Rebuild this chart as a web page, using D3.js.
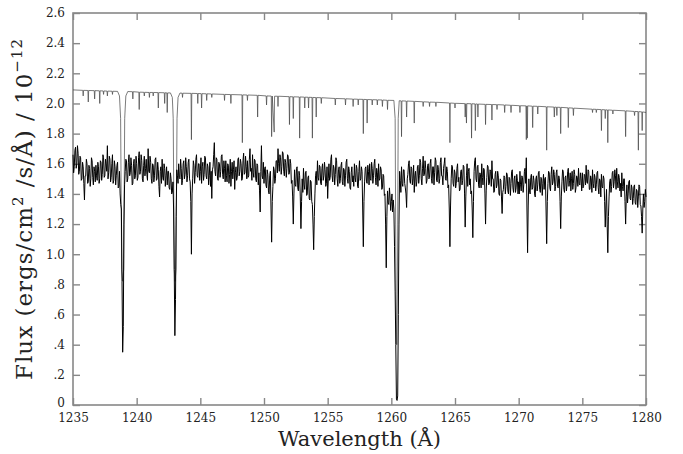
<!DOCTYPE html>
<html lang="en">
<head>
  <meta charset="UTF-8" />
  <title>Flux vs Wavelength</title>
  <style>
    body {
      margin: 0;
      background-color: #fff;
    }

    svg {
      display: block;
      background-color: #fff;
    }

    .frame {
      fill: none;
      stroke: #888;
      stroke-width: 1.6;
    }

    .axis path {
      display: none;
    }

    .axis line {
      stroke: #888;
      stroke-width: 1.4;
    }

    .axis text {
      font-family: "DejaVu Serif", serif;
      font-size: 12px;
      fill: #222;
    }

    .title {
      font-family: "DejaVu Serif", serif;
      fill: #222;
    }

    .model {
      fill: none;
      stroke: #444;
      stroke-width: 0.7;
    }

    .observed {
      fill: none;
      stroke: #000;
      stroke-width: 1;
    }
  </style>
</head>

<body>

  <svg width="683" height="454"></svg>

  <script src="https://d3js.org/d3.v7.min.js"></script>
  <script>
    // axis settings
    const xDomain = [1235, 1280];
    const yDomain = [0, 2.6];
    const xTicks = [1235, 1240, 1245, 1250, 1255, 1260, 1265, 1270, 1275, 1280];
    const yTicks = [0, 0.2, 0.4, 0.6, 0.8, 1.0, 1.2, 1.4, 1.6, 1.8, 2.0, 2.2, 2.4, 2.6];

    // observed spectrum, one flux value every 0.05 A starting at 1235.0 (one row per A)
    const obsStart = 1235.0;
    const obsStep = 0.05;
    const obsFlux = [
      1.66,1.54,1.58,1.69,1.71,1.57,1.60,1.72,1.67,1.53,1.55,1.65,1.64,1.49,1.50,1.61,1.58,1.47,1.36,1.52,
      1.52,1.63,1.60,1.47,1.48,1.59,1.57,1.45,1.50,1.64,1.62,1.51,1.46,1.58,1.55,1.48,1.59,1.52,1.49,1.61,
      1.58,1.47,1.50,1.62,1.61,1.49,1.53,1.66,1.64,1.51,1.52,1.63,1.60,1.55,1.72,1.50,1.54,1.65,1.63,1.48,
      1.51,1.60,1.66,1.47,1.49,1.62,1.58,1.46,1.52,1.59,1.61,1.44,1.45,1.55,1.40,1.33,1.30,0.82,0.35,0.52,
      1.20,1.46,1.55,1.63,1.62,1.48,1.50,1.61,1.66,1.52,1.54,1.64,1.59,1.46,1.47,1.60,1.63,1.50,1.52,1.65,
      1.60,1.49,1.51,1.64,1.68,1.53,1.55,1.66,1.62,1.50,1.48,1.59,1.65,1.52,1.57,1.63,1.53,1.49,1.70,1.55,
      1.54,1.65,1.61,1.50,1.47,1.60,1.59,1.48,1.52,1.63,1.64,1.49,1.50,1.61,1.56,1.45,1.38,1.55,1.58,1.47,
      1.63,1.51,1.49,1.60,1.57,1.45,1.52,1.58,1.46,1.55,1.55,1.44,1.43,1.54,1.50,1.40,1.41,1.48,1.30,0.90,
      0.46,0.70,1.25,1.56,1.52,1.47,1.60,1.51,1.50,1.63,1.57,1.46,1.49,1.60,1.62,1.50,1.53,1.64,1.58,1.48,
      1.52,1.61,1.63,1.50,1.48,1.35,1.00,1.40,1.50,1.62,1.59,1.47,1.54,1.63,1.66,1.52,1.51,1.60,1.60,1.49,
      1.55,1.64,1.47,1.58,1.61,1.49,1.53,1.65,1.64,1.52,1.50,1.60,1.58,1.46,1.52,1.61,1.45,1.55,1.37,1.56,
      1.58,1.66,1.74,1.55,1.52,1.64,1.63,1.50,1.49,1.61,1.60,1.51,1.55,1.65,1.66,1.53,1.50,1.62,1.57,1.48,
      1.62,1.52,1.48,1.60,1.59,1.47,1.53,1.63,1.45,1.55,1.61,1.50,1.56,1.62,1.43,1.54,1.58,1.49,1.51,1.63,
      1.64,1.52,1.55,1.63,1.60,1.49,1.50,1.62,1.67,1.53,1.54,1.65,1.58,1.50,1.62,1.51,1.52,1.63,1.70,1.55,
      1.57,1.49,1.66,1.54,1.51,1.63,1.62,1.50,1.48,1.60,1.59,1.46,1.54,1.42,1.28,1.55,1.72,1.52,1.50,1.61,
      1.47,1.57,1.58,1.46,1.44,1.56,1.53,1.42,1.40,1.52,1.55,1.30,1.08,1.35,1.45,1.58,1.56,1.47,1.50,1.62,
      1.62,1.54,1.70,1.60,1.55,1.66,1.64,1.53,1.58,1.68,1.67,1.55,1.52,1.63,1.61,1.51,1.57,1.66,1.65,1.53,
      1.54,1.63,1.60,1.47,1.49,1.38,1.20,1.40,1.56,1.46,1.45,1.57,1.58,1.44,1.42,1.55,1.52,1.38,1.17,1.35,
      1.50,1.41,1.57,1.46,1.43,1.54,1.55,1.39,1.40,1.51,1.52,1.37,1.36,1.49,1.48,1.35,1.33,1.20,1.03,1.25,
      1.40,1.52,1.55,1.46,1.62,1.51,1.49,1.59,1.58,1.47,1.46,1.57,1.60,1.49,1.52,1.61,1.56,1.45,1.47,1.58,
      1.37,1.50,1.60,1.49,1.51,1.63,1.66,1.52,1.48,1.59,1.57,1.46,1.53,1.64,1.62,1.50,1.45,1.56,1.58,1.47,
      1.50,1.59,1.61,1.48,1.46,1.57,1.56,1.45,1.52,1.61,1.63,1.50,1.47,1.58,1.55,1.44,1.43,1.54,1.58,1.48,
      1.52,1.45,1.60,1.51,1.48,1.59,1.57,1.45,1.44,1.55,1.62,1.49,1.50,1.58,1.55,1.30,1.05,1.35,1.48,1.57,
      1.58,1.48,1.47,1.59,1.55,1.46,1.60,1.50,1.49,1.61,1.57,1.47,1.52,1.60,1.63,1.51,1.46,1.57,1.54,1.45,
      1.60,1.49,1.50,1.58,1.56,1.43,1.44,1.53,1.52,1.39,1.40,1.20,0.91,1.25,1.42,1.34,1.33,1.44,1.38,1.29,
      1.35,1.40,1.28,1.36,1.30,1.05,0.75,0.40,0.04,0.03,0.06,0.60,1.20,1.55,1.49,1.41,1.58,1.47,1.45,1.56,
      1.56,1.47,1.44,1.40,1.31,1.50,1.53,1.60,1.62,1.49,1.47,1.58,1.57,1.46,1.50,1.59,1.41,1.52,1.55,1.45,
      1.48,1.58,1.59,1.47,1.52,1.63,1.61,1.50,1.46,1.57,1.65,1.52,1.53,1.62,1.57,1.47,1.49,1.59,1.60,1.50,
      1.51,1.60,1.63,1.50,1.47,1.58,1.58,1.46,1.54,1.64,1.62,1.49,1.48,1.59,1.56,1.47,1.50,1.61,1.64,1.52,
      1.52,1.46,1.57,1.60,1.64,1.50,1.49,1.58,1.55,1.44,1.46,1.30,1.05,1.32,1.50,1.59,1.58,1.47,1.45,1.56,
      1.54,1.44,1.47,1.57,1.60,1.48,1.51,1.42,1.43,1.55,1.56,1.46,1.49,1.59,1.58,1.40,1.18,1.38,1.52,1.60,
      1.45,1.55,1.57,1.46,1.50,1.40,1.42,1.30,1.11,1.35,1.55,1.62,1.64,1.50,1.48,1.58,1.59,1.46,1.44,1.54,
      1.53,1.44,1.60,1.51,1.46,1.57,1.56,1.40,1.20,1.42,1.51,1.59,1.58,1.46,1.47,1.56,1.55,1.45,1.62,1.50,
      1.50,1.41,1.42,1.53,1.55,1.44,1.46,1.55,1.52,1.40,1.39,1.50,1.49,1.38,1.27,1.41,1.43,1.52,1.51,1.40,
      1.45,1.54,1.53,1.42,1.40,1.51,1.50,1.39,1.47,1.55,1.56,1.44,1.41,1.50,1.52,1.41,1.44,1.53,1.49,1.40,
      1.48,1.40,1.55,1.46,1.42,1.52,1.51,1.41,1.46,1.55,1.57,1.47,1.64,1.30,1.01,1.32,1.50,1.42,1.40,1.51,
      1.53,1.43,1.44,1.52,1.49,1.40,1.38,1.50,1.52,1.42,1.46,1.54,1.55,1.43,1.41,1.51,1.50,1.39,1.47,1.53,
      1.43,1.50,1.51,1.30,1.07,1.35,1.47,1.55,1.54,1.44,1.42,1.53,1.58,1.46,1.48,1.56,1.53,1.42,1.45,1.54,
      1.56,1.45,1.44,1.52,1.50,1.35,1.17,1.38,1.48,1.56,1.55,1.43,1.41,1.51,1.52,1.42,1.46,1.55,1.57,1.45,
      1.49,1.54,1.42,1.50,1.55,1.43,1.47,1.56,1.53,1.41,1.44,1.52,1.51,1.45,1.57,1.47,1.46,1.54,1.50,1.42,
      1.54,1.44,1.45,1.53,1.52,1.46,1.59,1.48,1.47,1.56,1.55,1.43,1.43,1.52,1.50,1.41,1.56,1.47,1.44,1.53,
      1.51,1.42,1.46,1.54,1.55,1.44,1.40,1.50,1.49,1.38,1.53,1.45,1.44,1.52,1.50,1.35,1.18,1.32,1.43,1.20,
      1.01,1.25,1.38,1.48,1.50,1.41,1.45,1.54,1.55,1.44,1.48,1.56,1.52,1.43,1.57,1.48,1.44,1.53,1.51,1.42,
      1.47,1.38,1.54,1.45,1.42,1.50,1.50,1.35,1.20,1.38,1.46,1.34,1.40,1.48,1.49,1.37,1.36,1.46,1.44,1.33,
      1.37,1.45,1.46,1.34,1.33,1.43,1.42,1.31,1.38,1.46,1.45,1.33,1.32,1.25,1.14,1.30,1.40,1.31,1.35,1.43,
      1.38
    ];

    // model spectrum as [wavelength, flux] pairs
    const modelPoints = [
      [1235.0, 2.090],
      [1235.77, 2.087], [1235.8, 2.05], [1235.83, 2.087],
      [1236.17, 2.086], [1236.2, 2.01], [1236.23, 2.086],
      [1236.67, 2.085], [1236.7, 2.03], [1236.73, 2.085],
      [1237.07, 2.084], [1237.1, 2.00], [1237.13, 2.084],
      [1237.37, 2.083], [1237.4, 2.06], [1237.43, 2.083],
      [1237.67, 2.082], [1237.7, 2.05], [1237.73, 2.082],
      [1238.07, 2.081], [1238.1, 2.06], [1238.13, 2.081],
      [1238.5, 2.080], [1238.65, 2.05], [1238.74, 1.90], [1238.79, 1.30], [1238.82, 0.90],
      [1238.9, 0.82], [1238.98, 0.90], [1239.01, 1.30], [1239.06, 1.90], [1239.15, 2.05], [1239.3, 2.079],
      [1239.67, 2.078], [1239.7, 2.03], [1239.73, 2.078],
      [1240.17, 2.075], [1240.2, 1.96], [1240.23, 2.075],
      [1240.57, 2.074], [1240.6, 2.05], [1240.63, 2.074],
      [1240.97, 2.073], [1241.0, 2.04], [1241.03, 2.073],
      [1241.27, 2.073], [1241.3, 2.05], [1241.33, 2.073],
      [1241.67, 2.072], [1241.7, 1.97], [1241.73, 2.072],
      [1242.17, 2.071], [1242.2, 2.00], [1242.23, 2.071],
      [1242.37, 2.070], [1242.4, 1.94], [1242.43, 2.070],
      [1242.65, 2.070], [1242.8, 2.04], [1242.87, 1.90], [1242.92, 1.30], [1242.95, 0.90],
      [1243.02, 0.82], [1243.09, 0.90], [1243.12, 1.30], [1243.17, 1.90], [1243.25, 2.04], [1243.4, 2.069],
      [1243.57, 2.068], [1243.6, 2.04], [1243.63, 2.068],
      [1244.27, 2.067], [1244.3, 1.76], [1244.33, 2.067],
      [1244.77, 2.066], [1244.8, 2.00], [1244.83, 2.066],
      [1245.07, 2.065], [1245.1, 1.97], [1245.13, 2.065],
      [1245.47, 2.064], [1245.5, 2.02], [1245.53, 2.064],
      [1245.87, 2.063], [1245.9, 2.04], [1245.93, 2.063],
      [1246.87, 2.060], [1246.9, 2.02], [1246.93, 2.060],
      [1247.37, 2.059], [1247.4, 2.00], [1247.43, 2.059],
      [1248.27, 2.057], [1248.3, 1.74], [1248.33, 2.057],
      [1248.67, 2.056], [1248.7, 2.02], [1248.73, 2.056],
      [1249.47, 2.054], [1249.5, 1.91], [1249.53, 2.054],
      [1250.17, 2.050], [1250.2, 1.99], [1250.23, 2.050],
      [1250.57, 2.049], [1250.6, 1.78], [1250.65, 2.049], [1250.8, 1.81], [1250.83, 2.048],
      [1251.07, 2.048], [1251.1, 1.98], [1251.13, 2.048],
      [1251.97, 2.045], [1252.0, 1.86], [1252.03, 2.045],
      [1252.27, 2.044], [1252.3, 1.90], [1252.33, 2.044],
      [1252.77, 2.043], [1252.8, 1.77], [1252.83, 2.043],
      [1253.17, 2.042], [1253.2, 1.97], [1253.23, 2.042],
      [1253.47, 2.041], [1253.5, 1.97], [1253.53, 2.041],
      [1253.77, 2.040], [1253.8, 1.77], [1253.83, 2.040],
      [1254.07, 2.039], [1254.1, 1.91], [1254.13, 2.039],
      [1254.47, 2.038], [1254.5, 2.00], [1254.53, 2.038],
      [1255.57, 2.033], [1255.6, 1.99], [1255.63, 2.033],
      [1256.37, 2.031], [1256.4, 1.99], [1256.43, 2.031],
      [1256.97, 2.029], [1257.0, 1.98], [1257.03, 2.029],
      [1257.37, 2.028], [1257.4, 1.99], [1257.43, 2.028],
      [1257.77, 2.027], [1257.8, 1.80], [1257.83, 2.027],
      [1258.07, 2.026], [1258.1, 1.87], [1258.13, 2.026],
      [1258.47, 2.025], [1258.5, 1.99], [1258.53, 2.025],
      [1258.87, 2.024], [1258.9, 1.99], [1258.93, 2.024],
      [1259.27, 2.023], [1259.3, 1.98], [1259.33, 2.023],
      [1259.67, 2.021], [1259.7, 1.96], [1259.73, 2.021],
      [1260.2, 2.020], [1260.3, 1.90], [1260.34, 1.20], [1260.37, 0.73], [1260.42, 0.40],
      [1260.47, 0.73], [1260.5, 1.20], [1260.54, 1.90], [1260.62, 2.018],
      [1260.77, 2.017], [1260.8, 1.78], [1260.83, 2.017],
      [1261.17, 2.016], [1261.2, 1.91], [1261.23, 2.016],
      [1261.77, 2.014], [1261.8, 1.87], [1261.83, 2.014],
      [1262.47, 2.011], [1262.5, 1.98], [1262.53, 2.011],
      [1262.97, 2.009], [1263.0, 1.98], [1263.03, 2.009],
      [1263.47, 2.008], [1263.5, 1.98], [1263.53, 2.008],
      [1264.57, 2.003], [1264.6, 1.74], [1264.63, 2.003],
      [1264.97, 2.001], [1265.0, 1.97], [1265.03, 2.001],
      [1265.77, 1.999], [1265.8, 1.91], [1265.85, 1.999], [1265.9, 1.87], [1265.93, 1.999],
      [1266.27, 1.998], [1266.3, 1.77], [1266.33, 1.998],
      [1266.57, 1.997], [1266.6, 1.82], [1266.63, 1.997],
      [1266.77, 1.996], [1266.8, 1.91], [1266.83, 1.996],
      [1267.37, 1.994], [1267.4, 1.86], [1267.43, 1.994],
      [1267.87, 1.993], [1267.9, 1.89], [1267.93, 1.993],
      [1268.27, 1.992], [1268.3, 1.96], [1268.33, 1.992],
      [1268.87, 1.990], [1268.9, 1.94], [1268.93, 1.990],
      [1269.37, 1.988], [1269.4, 1.94], [1269.43, 1.988],
      [1270.07, 1.985], [1270.1, 1.94], [1270.13, 1.985],
      [1270.57, 1.984], [1270.6, 1.76], [1270.64, 1.984], [1270.68, 1.77], [1270.71, 1.984],
      [1271.07, 1.982], [1271.1, 1.84], [1271.13, 1.982],
      [1271.47, 1.981], [1271.5, 1.93], [1271.53, 1.981],
      [1272.17, 1.978], [1272.2, 1.69], [1272.23, 1.978],
      [1272.77, 1.976], [1272.8, 1.91], [1272.83, 1.976],
      [1272.97, 1.975], [1273.0, 1.92], [1273.03, 1.975],
      [1273.27, 1.974], [1273.3, 1.80], [1273.33, 1.974],
      [1273.87, 1.971], [1273.9, 1.84], [1273.93, 1.971],
      [1274.27, 1.969], [1274.3, 1.92], [1274.33, 1.969],
      [1275.77, 1.962], [1275.8, 1.94], [1275.83, 1.962],
      [1276.07, 1.961], [1276.1, 1.94], [1276.13, 1.961],
      [1276.47, 1.959], [1276.5, 1.82], [1276.53, 1.959],
      [1276.77, 1.958], [1276.8, 1.90], [1276.83, 1.958],
      [1276.97, 1.957], [1277.0, 1.74], [1277.03, 1.957],
      [1277.37, 1.955], [1277.4, 1.93], [1277.43, 1.955],
      [1278.37, 1.951], [1278.4, 1.78], [1278.43, 1.951],
      [1279.07, 1.947], [1279.1, 1.92], [1279.13, 1.947],
      [1279.37, 1.946], [1279.4, 1.69], [1279.43, 1.946],
      [1279.67, 1.944], [1279.7, 1.82], [1279.73, 1.944],
      [1280.0, 1.940]
    ];

    const svg = d3.select("svg");
    const margin = { top: 13, right: 37, bottom: 49, left: 73 };
    const width = +svg.attr("width");
    const height = +svg.attr("height");

    const x = d3.scaleLinear()
      .domain(xDomain)
      .range([margin.left, width - margin.right]);

    const y = d3.scaleLinear()
      .domain(yDomain)
      .range([height - margin.bottom, margin.top]);

    const yFormat = v => {
      if (v === 0) return "0";
      const s = d3.format(".1f")(v);
      return v < 1 ? s.slice(1) : s;
    };

    // ticks on all four sides, pointing inwards
    svg.append("g")
      .attr("class", "axis")
      .attr("transform", `translate(0,${y(0)})`)
      .call(d3.axisBottom(x).tickValues(xTicks).tickFormat(d3.format("d"))
        .tickSizeInner(-7).tickSizeOuter(0).tickPadding(8));

    svg.append("g")
      .attr("class", "axis")
      .attr("transform", `translate(0,${y(2.6)})`)
      .call(d3.axisTop(x).tickValues(xTicks).tickFormat("")
        .tickSizeInner(-7).tickSizeOuter(0));

    svg.append("g")
      .attr("class", "axis")
      .attr("transform", `translate(${x(1235)},0)`)
      .call(d3.axisLeft(y).tickValues(yTicks).tickFormat(yFormat)
        .tickSizeInner(-7).tickSizeOuter(0).tickPadding(8))
      .selectAll("text")
      .filter(d => d === 0)
      .attr("dy", "0.1em");

    svg.append("g")
      .attr("class", "axis")
      .attr("transform", `translate(${x(1280)},0)`)
      .call(d3.axisRight(y).tickValues(yTicks).tickFormat("")
        .tickSizeInner(-7).tickSizeOuter(0));

    svg.append("rect")
      .attr("class", "frame")
      .attr("x", x(1235))
      .attr("y", y(2.6))
      .attr("width", x(1280) - x(1235))
      .attr("height", y(0) - y(2.6));

    const line = d3.line()
      .x(d => x(d[0]))
      .y(d => y(d[1]));

    svg.append("path")
      .attr("class", "model")
      .attr("d", line(modelPoints));

    const observed = obsFlux.map((f, i) => [obsStart + i * obsStep, f]);

    svg.append("path")
      .attr("class", "observed")
      .attr("d", line(observed));

    // axis titles
    svg.append("text")
      .attr("class", "title")
      .attr("x", (x(1235) + x(1280)) / 2)
      .attr("y", 446)
      .attr("text-anchor", "middle")
      .style("font-size", "21px")
      .text("Wavelength (Å)");

    const yTitle = svg.append("text")
      .attr("class", "title")
      .attr("text-anchor", "middle")
      .style("font-size", "23px")
      .style("letter-spacing", "1px")
      .attr("transform", `translate(32,${(y(0) + y(2.6)) / 2}) rotate(-90)`);

    yTitle.append("tspan").text("Flux (ergs/cm");
    yTitle.append("tspan").attr("dy", -9).style("font-size", "15px").text("2");
    yTitle.append("tspan").attr("dy", 9).text(" /s/Å) / 10");
    yTitle.append("tspan").attr("dy", -10).style("font-size", "15px").text("−12");
  </script>

</body>
</html>
